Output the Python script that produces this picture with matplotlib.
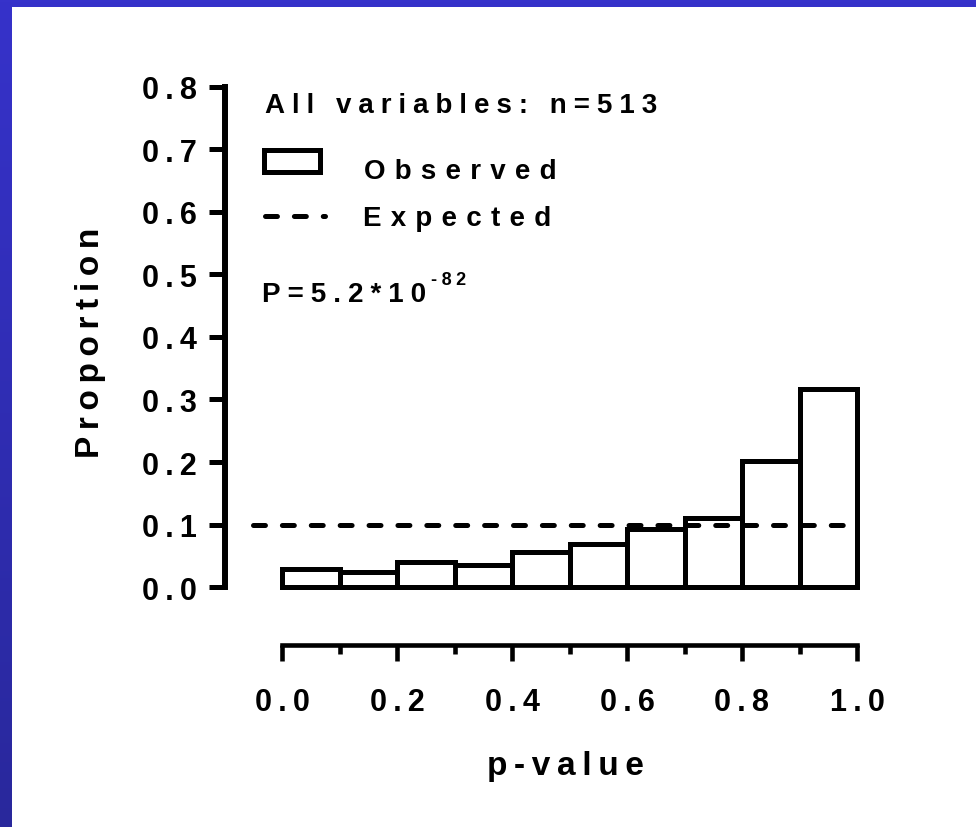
import matplotlib.pyplot as plt
import numpy as np
from matplotlib.patches import Rectangle
from matplotlib.lines import Line2D

plt.rcParams['font.family'] = ['Liberation Sans', 'DejaVu Sans']
plt.rcParams['font.weight'] = 'bold'
plt.rcParams['lines.scale_dashes'] = False

# histogram of p-values (bin left edges, proportion per bin)
bin_left = [0.0, 0.1, 0.2, 0.3, 0.4, 0.5, 0.6, 0.7, 0.8, 0.9]
proportion = [0.029, 0.025, 0.040, 0.035, 0.056, 0.069, 0.093, 0.110, 0.202, 0.317]
bin_width = 0.1
expected = 0.1

yticks = [0.0, 0.1, 0.2, 0.3, 0.4, 0.5, 0.6, 0.7, 0.8]
ytick_labels = ['0.0', '0.1', '0.2', '0.3', '0.4', '0.5', '0.6', '0.7', '0.8']
xticks = [0.0, 0.2, 0.4, 0.6, 0.8, 1.0]
xticks_minor = [0.1, 0.3, 0.5, 0.7, 0.9]
xtick_labels = ['0.0', '0.2', '0.4', '0.6', '0.8', '1.0']

n_vars = 513
p_base = '5.2*10'
p_exp = '-82'


def spaced(s, gap='\u2009'):
    # Prism-style letter spacing
    return gap.join(s)


W, H = 976, 828
fig = plt.figure(figsize=(W / 100, H / 100), dpi=100)

# blue slide frame behind the white panel
bg = fig.add_axes([0, 0, 1, 1], zorder=-10)
bg.axis('off')
top = np.array([0x36, 0x32, 0xCA]) / 255
bot = np.array([0x29, 0x28, 0x9C]) / 255
t = np.linspace(0, 1, 256)[:, None, None]
bg.imshow(top + (bot - top) * t, aspect='auto', extent=[0, 1, 0, 1], origin='upper')
bg.add_patch(Rectangle((12 / W, 0), 1 - 12 / W, 1 - 8 / H, facecolor='white',
                       edgecolor='none', transform=bg.transAxes))
bg.set_xlim(0, 1)
bg.set_ylim(0, 1)

ax = fig.add_axes([224.5 / W, (H - 588.2) / H, (857 - 224.5) / W, (588.2 - 87.5) / H])
ax.set_facecolor('none')

ax.bar(bin_left, proportion, width=bin_width, align='edge', facecolor='white',
       edgecolor='black', linewidth=3.6, clip_on=False, zorder=2)
ax.plot([-0.05, 1.0], [expected, expected], color='black', linewidth=3.6,
        linestyle=(0, (8.6, 12.2)), dash_capstyle='round', zorder=3, clip_on=False)

ax.set_xlim(-0.1, 1.0)
ax.set_ylim(0, 0.8)

for s in ['top', 'right']:
    ax.spines[s].set_visible(False)
ax.spines['left'].set_linewidth(4.3)
ax.spines['left'].set_bounds(0, 0.8)
ax.spines['left'].set_capstyle('projecting')
ax.spines['bottom'].set_linewidth(3.3)
ax.spines['bottom'].set_position(('outward', 41.8))
ax.spines['bottom'].set_bounds(0, 1.0)
ax.spines['bottom'].set_capstyle('projecting')

ax.set_yticks(yticks)
ax.set_yticklabels([spaced(s) for s in ytick_labels], fontsize=22)
ax.set_xticks(xticks)
ax.set_xticks(xticks_minor, minor=True)
ax.set_xticklabels([spaced(s) for s in xtick_labels], fontsize=22)
ax.tick_params(axis='y', length=11.5, width=3.6, pad=8.6, direction='out')
ax.tick_params(axis='x', which='major', length=11.5, width=3.3, pad=18.7)
ax.tick_params(axis='x', which='minor', length=6.5, width=3.3)

# axis titles
fig.text(90 / W, 1 - 343 / H, spaced('Proportion'), rotation=90, fontsize=24,
         ha='center', va='center')
fig.text(565 / W, 1 - 775 / H, spaced('p-value'), fontsize=24, ha='center', va='baseline')

# legend block
fig.text(265 / W, 1 - 113 / H, spaced(f'All variables: n={n_vars}', '\u2005'),
         fontsize=20, ha='left', va='baseline')
fig.add_artist(Rectangle((263.5 / W, 1 - 172.5 / H), 56 / W, 22 / H, fill=False,
                         edgecolor='black', linewidth=3.6, transform=fig.transFigure))
fig.text(364 / W, 1 - 179 / H, spaced('Observed', '\u2004'), fontsize=20,
         ha='left', va='baseline')
fig.add_artist(Line2D([264.5 / W, 325 / W], [1 - 217 / H, 1 - 217 / H], color='black',
                      linewidth=3.6, linestyle=(0, (8.6, 12.2)), dash_capstyle='round',
                      transform=fig.transFigure))
fig.text(363 / W, 1 - 226.5 / H, spaced('Expected', '\u2004'), fontsize=20,
         ha='left', va='baseline')
ptxt = fig.text(262 / W, 1 - 302 / H, spaced('P=' + p_base, '\u2005'), fontsize=20,
                ha='left', va='baseline')
ax.annotate(spaced(p_exp, '\u2005'), xy=(1, 1), xycoords=ptxt, xytext=(3.6, -2),
            textcoords='offset points', fontsize=13, ha='left', va='baseline',
            annotation_clip=False)

fig.savefig('out.png', dpi=100)
